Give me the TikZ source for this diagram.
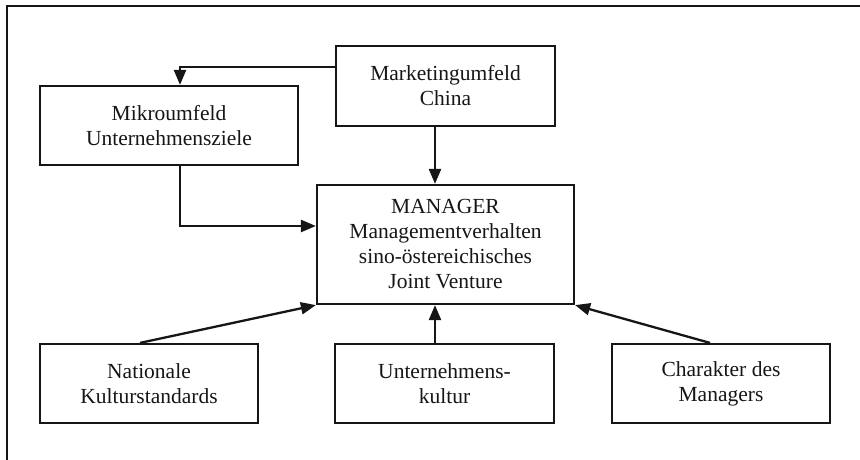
\documentclass[tikz,border=0pt]{standalone}
\usepackage{fontspec}
\setmainfont{Liberation Serif}
\usetikzlibrary{arrows.meta}
\definecolor{ink}{HTML}{161616}
\tikzset{
  box/.style={draw=ink, line width=2.2pt, align=center, text=ink,
    font=\fontsize{21.5}{25}\selectfont, inner sep=0pt},
  arr/.style={draw=ink, line width=2.3pt,
    -{Triangle[length=15pt,width=12pt]}},
  frame/.style={draw=ink, line width=2pt}
}
\begin{document}
\begin{tikzpicture}[x=1pt,y=-1pt]
\useasboundingbox (0,0) rectangle (860,460);
% outer frame (top and left edge only)
\draw[frame] (860,6) -- (7,6) -- (7,460);

% boxes
\node[box, minimum width=258pt, minimum height=79pt] (mikro) at (169,125.5)
  {Mikroumfeld\\Unternehmensziele};
\node[box, minimum width=219pt, minimum height=80pt] (mark) at (445.5,86)
  {Marketingumfeld\\China};
\node[box, minimum width=257pt, minimum height=119pt] (mgr) at (445.5,244.5)
  {MANAGER\\Managementverhalten\\sino-östereichisches\\Joint Venture};
\node[box, minimum width=218pt, minimum height=79pt] (nat) at (149,383.5)
  {Nationale\\Kulturstandards};
\node[box, minimum width=219pt, minimum height=79pt] (unt) at (444.5,383.5)
  {Unternehmens-\\kultur};
\node[box, minimum width=218pt, minimum height=79pt] (char) at (721,383.5)
  {Charakter des\\Managers};

% connectors
\draw[arr] ([yshift=19pt]mark.west) -| ([xshift=11pt]mikro.north);
\draw[arr] ([xshift=-10.5pt]mark.south) -- ([xshift=-10.5pt]mgr.north);
\draw[arr] ([xshift=11pt]mikro.south) |- ([yshift=18.5pt]mgr.west);
\draw[arr] ([xshift=-9pt]nat.north) -- (mgr.south west);
\draw[arr] ([xshift=-9.5pt]unt.north) -- ([xshift=-10.5pt]mgr.south);
\draw[arr] ([xshift=-11pt]char.north) -- (mgr.south east);
\end{tikzpicture}
\end{document}
